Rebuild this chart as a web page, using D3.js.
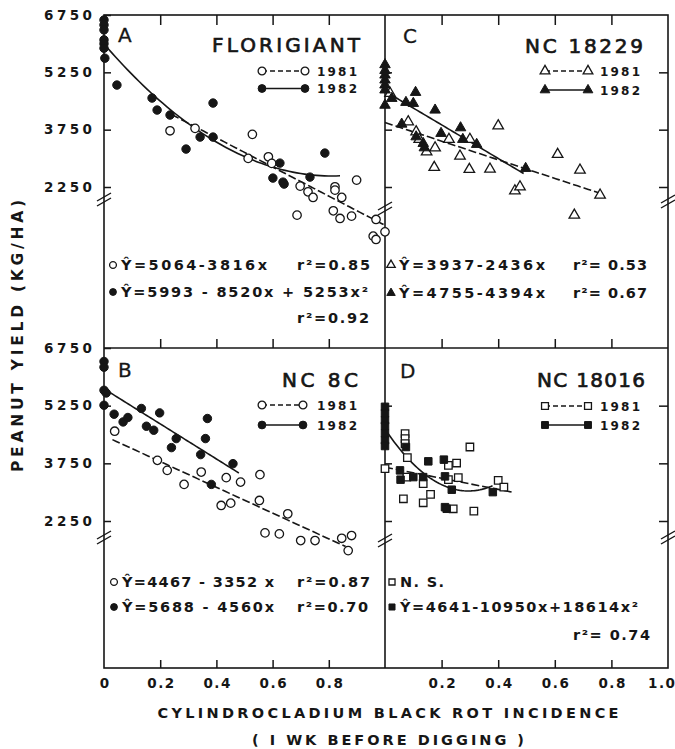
<!DOCTYPE html>
<html><head><meta charset="utf-8">
<script src="https://cdn.jsdelivr.net/npm/d3@7"></script>
<style>
body{margin:0;background:#fff}
text{font-family:"DejaVu Sans",sans-serif;fill:#161616}
</style>
</head><body>
<svg id="c" width="675" height="749"></svg>
<script>
// ---------------- data ----------------
const yTicks = [6750, 5250, 3750, 2250];
const xTicksLeft = [0, 0.2, 0.4, 0.6, 0.8];
const xTicksRight = [0.2, 0.4, 0.6, 0.8, 1.0];
const innerTicks = [0.2, 0.4, 0.6, 0.8];
const legendYears = ["1981", "1982"];

// Panel A – Florigiant  [incidence, yield]
const florigiant1981 = [[0.235,3721],[0.324,3784],[0.513,2998],[0.528,3627],[0.585,3040],[0.597,2868],[0.698,2273],[0.726,2124],[0.744,1977],[0.687,1514],[0.822,2255],[0.822,2168],[0.846,1977],[0.816,1627],[0.840,1427],[0.881,1488],[0.899,2430],[0.968,1401],[0.958,964],[0.968,877],[1.0,1077]];
const florigiant1982 = [[0,6620],[0,6490],[0,6360],[0,6100],[0,6000],[0,5880],[0.003,5620],[0.046,4917],[0.171,4577],[0.189,4263],[0.235,4132],[0.292,3242],[0.342,3556],[0.388,4446],[0.388,3556],[0.626,2875],[0.601,2483],[0.637,2378],[0.641,2326],[0.733,2509],[0.786,3137]];
// Panel C – NC 18229
const nc18229_1981 = [[0.018,4700],[0.082,3957],[0.11,3695],[0.121,3496],[0.147,3171],[0.177,3276],[0.174,2763],[0.226,3496],[0.265,3059],[0.298,2710],[0.3,3496],[0.371,2718],[0.4,3852],[0.459,2150],[0.477,2255],[0.61,3103],[0.689,2692],[0.760,2038],[0.669,1514]];
const nc18229_1982 = [[0,5450],[0,5300],[0,5180],[0,5050],[0,4920],[0,4790],[0,4390],[0.024,4569],[0.074,4464],[0.1,4438],[0.108,4726],[0.177,4263],[0.059,3896],[0.198,3653],[0.110,3564],[0.135,3390],[0.139,3276],[0.267,3800],[0.275,3496],[0.324,3365],[0.497,2737]];
// Panel B – NC 8C
const nc8c_1981 = [[0.038,4585],[0.19,3828],[0.225,3567],[0.285,3202],[0.346,3523],[0.435,3377],[0.486,3262],[0.417,2654],[0.451,2714],[0.555,3455],[0.553,2784],[0.654,2437],[0.573,1941],[0.624,1915],[0.7,1741],[0.751,1741],[0.846,1801],[0.881,1872],[0.869,1480]];
const nc8c_1982 = [[0,6400],[0,6250],[0,5650],[0.008,5580],[0,5260],[0.036,5028],[0.068,4827],[0.085,4942],[0.133,5177],[0.151,4715],[0.177,4611],[0.198,5062],[0.257,4394],[0.240,4159],[0.368,4916],[0.361,4394],[0.344,3977],[0.459,3742],[0.382,3202]];
// Panel D – NC 18016
const nc18016_1981 = [[0,3611],[0.071,4524],[0.071,4393],[0.071,4263],[0.079,3898],[0.065,2828],[0.077,3392],[0.135,3220],[0.135,2724],[0.161,2941],[0.224,3698],[0.253,3758],[0.224,3325],[0.259,3377],[0.241,2568],[0.300,4175],[0.314,2505],[0.4,3306],[0.420,3132]];
const nc18016_1982 = [[0,5220],[0,5050],[0,4870],[0,4720],[0,4530],[0,4350],[0,4200],[0.053,3567],[0.055,3325],[0.074,4175],[0.1,3392],[0.135,3392],[0.153,3802],[0.208,3846],[0.212,3411],[0.212,2610],[0.218,2568],[0.236,3064],[0.381,3001]];

// fitted equations (coefficients c0 + c1 x + c2 x^2) and drawn x-range
const fitA81 = [5064, -3816, 0],  rangeA81 = [0.24, 1.0];
const fitA82 = [5993, -8520, 5253], rangeA82 = [0, 0.84];
const fitC81 = [3937, -2436, 0],  rangeC81 = [0, 0.77];
const fitC82 = [4755, -4394, 0],  rangeC82 = [0.02, 0.49];
const fitB81 = [4467, -3352, 0],  rangeB81 = [0.03, 0.86];
const fitB82 = [5688, -4560, 0],  rangeB82 = [0, 0.48];
const fitD82 = [4641, -10950, 18614], rangeD82 = [0, 0.38];
const lineD81 = [[0,3650],[0.45,3000]];   // N.S. (no equation)

// ---------------- drawing ----------------
const svg = d3.select("#c");
const INK = "#161616";
const xL = d3.scaleLinear([0,1],[104,385]);
const xR = d3.scaleLinear([0,1],[385,668]);
const yT = d3.scaleLinear([2250,6750],[187,15]);
const yB = d3.scaleLinear([2250,6750],[521,348]);
const TOP=15, MID=348, BOT=668, LEFT=104, DIV=385, RIGHT=668;

const frame = svg.append("g").attr("stroke",INK).attr("stroke-width",1.6).attr("fill","none");
frame.append("rect").attr("x",LEFT).attr("y",TOP).attr("width",RIGHT-LEFT).attr("height",BOT-TOP);
frame.append("line").attr("x1",DIV).attr("x2",DIV).attr("y1",TOP).attr("y2",BOT);
frame.append("line").attr("x1",LEFT).attr("x2",RIGHT).attr("y1",MID).attr("y2",MID);

function styleAxis(g){
  g.select(".domain").remove();
  g.selectAll(".tick line").attr("stroke",INK).attr("stroke-width",1.5);
}
[yT,yB].forEach(ys=>{
  const g = svg.append("g").attr("transform",`translate(${LEFT},0)`)
    .call(d3.axisLeft(ys).tickValues(yTicks).tickSize(-7).tickPadding(12).tickFormat(d3.format("d")));
  styleAxis(g);
  g.selectAll(".tick text").attr("font-size",13.5).attr("font-weight","bold")
    .attr("textLength",48).attr("lengthAdjust","spacing").attr("fill",INK);
  const g2 = svg.append("g").attr("transform",`translate(${DIV},0)`)
    .call(d3.axisLeft(ys).tickValues(yTicks.slice(1)).tickSize(-7).tickFormat(""));
  styleAxis(g2);
  const g3 = svg.append("g").attr("transform",`translate(${RIGHT},0)`)
    .call(d3.axisRight(ys).tickValues(yTicks.slice(1)).tickSize(-9).tickFormat(""));
  styleAxis(g3);
});
[xL,xR].forEach(xs=>{
  styleAxis(svg.append("g").attr("transform",`translate(0,${TOP})`)
    .call(d3.axisTop(xs).tickValues(innerTicks).tickSize(-10).tickFormat("")));
  styleAxis(svg.append("g").attr("transform",`translate(0,${MID})`)
    .call(d3.axisBottom(xs).tickValues(innerTicks).tickSize(-9).tickFormat("")));
});
const fmtX = d=> d===0 ? "0" : d3.format(".1f")(d);
[[xL,xTicksLeft],[xR,xTicksRight]].forEach(([xs,tv])=>{
  const g = svg.append("g").attr("transform",`translate(0,${BOT})`)
    .call(d3.axisBottom(xs).tickValues(tv).tickSize(-8).tickPadding(10).tickFormat(fmtX));
  styleAxis(g);
  g.selectAll(".tick line").filter(d=>d===0||d===1).remove();
  g.selectAll(".tick text").attr("font-size",13.5).attr("font-weight","bold").attr("fill",INK)
    .attr("textLength",d=>d===0?9:27).attr("lengthAdjust","spacing")
    .attr("dx",d=>d===1?-7:0);
});

function brk(x,y){
  const g = svg.append("g").attr("stroke",INK).attr("stroke-width",1.4);
  [0,5].forEach(o=>g.append("line").attr("x1",x-7).attr("y1",y+4+o).attr("x2",x+7).attr("y2",y-4+o));
}
[[LEFT,197],[DIV,206],[RIGHT,199],[LEFT,535],[DIV,538],[RIGHT,535]].forEach(([x,y])=>brk(x,y));

svg.append("text").attr("transform","translate(23,336) rotate(-90)").attr("text-anchor","middle")
  .attr("font-size",15.5).attr("font-weight","bold").attr("textLength",272).attr("lengthAdjust","spacing")
  .text("PEANUT YIELD (KG/HA)");
svg.append("text").attr("x",388).attr("y",718).attr("text-anchor","middle")
  .attr("font-size",14.5).attr("font-weight","bold").attr("textLength",461).attr("lengthAdjust","spacing")
  .text("CYLINDROCLADIUM BLACK ROT INCIDENCE");
svg.append("text").attr("x",388).attr("y",745).attr("text-anchor","middle")
  .attr("font-size",14.5).attr("font-weight","bold").attr("textLength",272).attr("lengthAdjust","spacing")
  .text("( I WK BEFORE DIGGING )");

const shapes = {circle:d3.symbolCircle, triangle:d3.symbolTriangle, square:d3.symbolSquare};
const sizes = {circle:56, triangle:48, square:56};
function marker(g,shape,open,x,y,scale=1){
  g.append("path").attr("d",d3.symbol(shapes[shape],sizes[shape]*scale)())
    .attr("transform",`translate(${x},${y})`)
    .attr("fill",open?"#fff":INK).attr("stroke",INK).attr("stroke-width",open?1.3:1);
}
const poly = c=> x=> c[0]+c[1]*x+c[2]*x*x;
function fitLine(g,xs,ys,c,range,dashed){
  const pts = d3.range(range[0],range[1]+1e-9,(range[1]-range[0])/60).map(x=>[x,poly(c)(x)]);
  drawPath(g,xs,ys,pts,dashed);
}
function drawPath(g,xs,ys,pts,dashed){
  g.append("path").attr("d",d3.line().x(d=>xs(d[0])).y(d=>ys(d[1]))(pts))
    .attr("fill","none").attr("stroke",INK).attr("stroke-width",1.6)
    .attr("stroke-dasharray",dashed?"8,3":null);
}
function txt(x,y,s,size,len,weight="bold",anchor="start"){
  const t = svg.append("text").attr("x",x).attr("y",y).attr("font-size",size)
    .attr("font-weight",weight).attr("text-anchor",anchor).text(s);
  if(len) t.attr("textLength",len).attr("lengthAdjust","spacing");
  return t;
}

const panels = [
 {xs:xL, ys:yT, shape:"circle", d81:florigiant1981, d82:florigiant1982,
  letter:["A",118,42], title:["FLORIGIANT",212,52,148], leg:[262,305,71,88.5,317]},
 {xs:xR, ys:yT, shape:"triangle", d81:nc18229_1981, d82:nc18229_1982,
  letter:["C",403,43], title:["NC 18229",525,53,118], leg:[545,588,71,90,600]},
 {xs:xL, ys:yB, shape:"circle", d81:nc8c_1981, d82:nc8c_1982,
  letter:["B",118,377], title:["NC 8C",282,387,76], leg:[262,303,405,425,317]},
 {xs:xR, ys:yB, shape:"square", d81:nc18016_1981, d82:nc18016_1982,
  letter:["D",400,378], title:["NC 18016",537,387,108], leg:[545,588,406,425,600]},
];

panels.forEach((p,i)=>{
  const g = svg.append("g");
  if(i===0){ fitLine(g,p.xs,p.ys,fitA81,rangeA81,true); fitLine(g,p.xs,p.ys,fitA82,rangeA82,false); }
  if(i===1){ fitLine(g,p.xs,p.ys,fitC81,rangeC81,true); fitLine(g,p.xs,p.ys,fitC82,rangeC82,false); }
  if(i===2){ fitLine(g,p.xs,p.ys,fitB81,rangeB81,true); fitLine(g,p.xs,p.ys,fitB82,rangeB82,false); }
  if(i===3){ drawPath(g,p.xs,p.ys,lineD81,true); fitLine(g,p.xs,p.ys,fitD82,rangeD82,false); }
  p.d81.forEach(d=>marker(g,p.shape,true,p.xs(d[0]),p.ys(d[1])));
  p.d82.forEach(d=>marker(g,p.shape,false,p.xs(d[0]),p.ys(d[1])));
  txt(p.letter[1],p.letter[2],p.letter[0],20,null,"normal").attr("stroke",INK).attr("stroke-width",0.3);
  txt(p.title[1],p.title[2],p.title[0],20,p.title[3],"normal").attr("stroke",INK).attr("stroke-width",0.7);
  const [lx1,lx2,ly1,ly2,tx] = p.leg;
  const lg = svg.append("g");
  [[ly1,true],[ly2,false]].forEach(([yy,open],k)=>{
    lg.append("line").attr("x1",lx1).attr("x2",lx2).attr("y1",yy).attr("y2",yy)
      .attr("stroke",INK).attr("stroke-width",1.6).attr("stroke-dasharray",open?"5,3":null);
    marker(lg,p.shape,open,lx1,yy,0.85); marker(lg,p.shape,open,lx2,yy,0.85);
    txt(tx,yy+4.5,legendYears[k],12,40);
  });
});

const eq = svg.append("g");
function eqRow(shape,open,mx,y,s,len){
  marker(eq,shape,open,mx,y-5,0.65);
  txt(mx+8,y,s,14.5,len);
}
eqRow("circle",true,113,270,"Ŷ=5064-3816x",146);  txt(297,270,"r²=0.85",14.5,73);
eqRow("circle",false,113,297,"Ŷ=5993 - 8520x + 5253x²",247);  txt(297,323,"r²=0.92",14.5,72);
eqRow("triangle",true,391,270,"Ŷ=3937-2436x",146);  txt(573,270,"r²= 0.53",14.5,74);
eqRow("triangle",false,391,298,"Ŷ=4755-4394x",146);  txt(573,298,"r²= 0.67",14.5,74);
eqRow("circle",true,114,587,"Ŷ=4467 - 3352 x",152);  txt(297,587,"r²=0.87",14.5,73);
eqRow("circle",false,114,612,"Ŷ=5688 - 4560x",152);  txt(297,612,"r²=0.70",14.5,71);
eqRow("square",true,392,587,"N. S.",44);
eqRow("square",false,392,612,"Ŷ=4641-10950x+18614x²",238);  txt(573,640,"r²= 0.74",14.5,77);
</script>
</body></html>
